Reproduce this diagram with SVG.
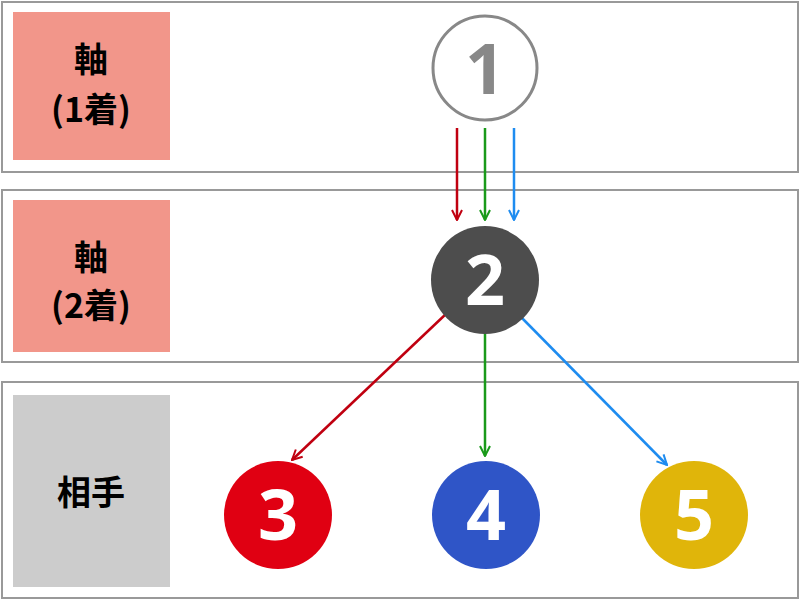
<svg xmlns="http://www.w3.org/2000/svg" width="800" height="600" viewBox="0 0 800 600">
<defs>
<style>
.panel{fill:#fff;stroke:#999;stroke-width:2}
.lbl{font-family:"Noto Sans CJK JP","Noto Sans",sans-serif;font-weight:bold;font-size:34px;fill:#000;text-anchor:middle}
.num{font-family:"Open Sans","Noto Sans",sans-serif;font-weight:bold;font-size:70px;text-anchor:middle}
.c{fill:none;stroke-width:2.5}
</style>
<marker id="mr" viewBox="0 0 12 12" refX="11" refY="6" markerWidth="12" markerHeight="12" markerUnits="userSpaceOnUse" orient="auto"><path d="M1,1 L11,6 L1,11" fill="none" stroke="#c00010" stroke-width="2"/></marker>
<marker id="mg" viewBox="0 0 12 12" refX="11" refY="6" markerWidth="12" markerHeight="12" markerUnits="userSpaceOnUse" orient="auto"><path d="M1,1 L11,6 L1,11" fill="none" stroke="#1a9a1a" stroke-width="2"/></marker>
<marker id="mb" viewBox="0 0 12 12" refX="11" refY="6" markerWidth="12" markerHeight="12" markerUnits="userSpaceOnUse" orient="auto"><path d="M1,1 L11,6 L1,11" fill="none" stroke="#1e8cf0" stroke-width="2"/></marker>
</defs>
<rect class="panel" x="2" y="2" width="796" height="170"/>
<rect class="panel" x="2" y="190" width="796" height="172"/>
<rect class="panel" x="2" y="382" width="796" height="216"/>
<g id="label1"><rect x="13" y="12" width="157" height="148" fill="#f2968a"/><text class="lbl" x="91" y="72">軸</text><text class="lbl" x="91" y="122">(1着)</text></g>
<g id="label2"><rect x="13" y="200" width="157" height="152" fill="#f2968a"/><text class="lbl" x="91" y="270">軸</text><text class="lbl" x="91" y="318">(2着)</text></g>
<g id="label3"><rect x="13" y="395" width="157" height="192" fill="#cccccc"/><text class="lbl" x="91" y="505">相手</text></g>
<g id="connectors">
<line class="c" x1="457" y1="128" x2="457" y2="220" stroke="#c00010" marker-end="url(#mr)"/>
<line class="c" x1="485" y1="128" x2="485" y2="220" stroke="#1a9a1a" marker-end="url(#mg)"/>
<line class="c" x1="514" y1="128" x2="514" y2="220" stroke="#1e8cf0" marker-end="url(#mb)"/>
<line class="c" x1="447" y1="313" x2="292" y2="460" stroke="#c00010" marker-end="url(#mr)"/>
<line class="c" x1="485" y1="320" x2="485" y2="456" stroke="#1a9a1a" marker-end="url(#mg)"/>
<line class="c" x1="520" y1="316" x2="667" y2="465" stroke="#1e8cf0" marker-end="url(#mb)"/>
</g>
<g id="n1"><circle cx="485" cy="68" r="52" fill="#fff" stroke="#888" stroke-width="3"/><text class="num" x="485" y="94" fill="#888">1</text></g>
<g id="n2"><circle cx="485" cy="280" r="54" fill="#4d4d4d"/><text class="num" x="485" y="305" fill="#fff">2</text></g>
<g id="n3"><circle cx="278" cy="515" r="54" fill="#e00012"/><text class="num" x="278" y="540" fill="#fff">3</text></g>
<g id="n4"><circle cx="486" cy="515" r="54" fill="#2f55c7"/><text class="num" x="486" y="540" fill="#fff">4</text></g>
<g id="n5"><circle cx="694" cy="515" r="54" fill="#e0b50a"/><text class="num" x="694" y="540" fill="#fff">5</text></g>
</svg>
